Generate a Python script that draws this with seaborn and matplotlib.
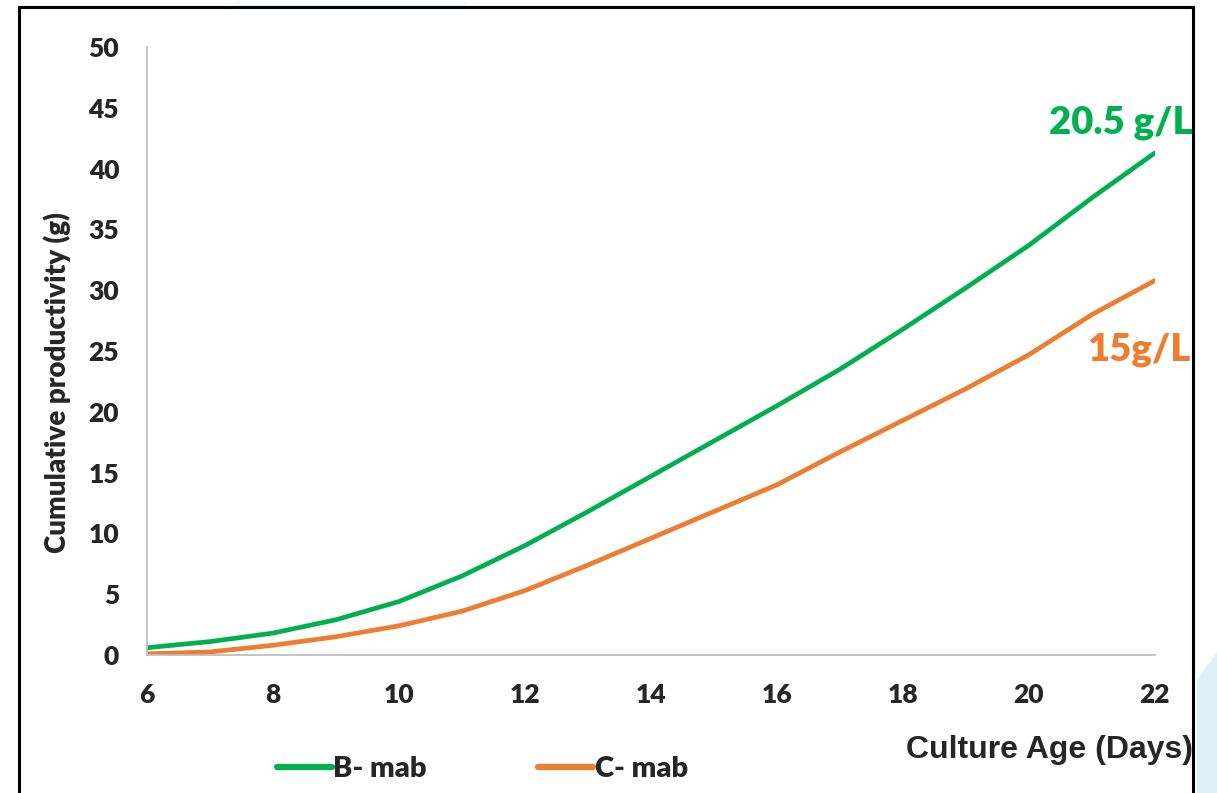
import matplotlib
matplotlib.use('Agg')
import matplotlib.pyplot as plt
import matplotlib.patches as patches
from matplotlib import font_manager
import seaborn as sns
import pandas as pd

# Data
days = [6, 7, 8, 9, 10, 11, 12, 13, 14, 15, 16, 17, 18, 19, 20, 21, 22]
b_mab = [0.6, 1.1, 1.8, 2.9, 4.4, 6.5, 9.0, 11.8, 14.7, 17.6, 20.5, 23.5, 26.8, 30.2, 33.7, 37.6, 41.3]
c_mab = [0.1, 0.25, 0.8, 1.5, 2.4, 3.6, 5.3, 7.4, 9.6, 11.8, 14.0, 16.7, 19.3, 21.9, 24.7, 28.0, 30.8]
series_names = ['B- mab', 'C- mab']
series_colors = ['#00B050', '#ED7D31']
y_ticks = [0, 5, 10, 15, 20, 25, 30, 35, 40, 45, 50]
x_ticks = [6, 8, 10, 12, 14, 16, 18, 20, 22]

df = pd.DataFrame({'day': days * 2,
                   'value': b_mab + c_mab,
                   'series': [series_names[0]] * len(days) + [series_names[1]] * len(days)})

sns.set_theme(style='white')
plt.rcParams['font.family'] = ['Lato', 'DejaVu Sans']
plt.rcParams['font.weight'] = 'heavy'

W, H = 1217, 793
fig = plt.figure(figsize=(W / 100, H / 100), dpi=100)
ax = fig.add_axes([147 / W, 1 - 655 / H, (1155 - 147) / W, (655 - 47) / H])

sns.lineplot(data=df, x='day', y='value', hue='series', palette=series_colors,
             linewidth=3.4, ax=ax, legend=False)
for ln in ax.lines:
    ln.set_solid_joinstyle('round')
    ln.set_solid_capstyle('round')

ax.set_xlim(6, 22)
ax.set_ylim(0, 50)
ax.set_xticks(x_ticks)
ax.set_yticks(y_ticks)
ax.set_xticklabels([str(t) for t in x_ticks], fontsize=19, fontweight='heavy')
ax.set_yticklabels([str(t) for t in y_ticks], fontsize=19, fontweight='heavy')
ax.tick_params(axis='x', length=0, pad=20)
ax.tick_params(axis='y', length=0, pad=20)
ax.set_xlabel('')
ax.set_ylabel('')
for s in ['top', 'right']:
    ax.spines[s].set_visible(False)
for s in ['left', 'bottom']:
    ax.spines[s].set_color('#BFBFBF')
    ax.spines[s].set_linewidth(1.3)

# end labels
ax.text(22.6, 43.8, '20.5 g/L', color=series_colors[0], fontsize=27.5,
        fontweight='heavy', ha='right', va='center', clip_on=False)
ax.text(22.56, 25.1, '15g/L', color=series_colors[1], fontsize=27.5,
        fontweight='heavy', ha='right', va='center', clip_on=False)

# axis titles
fig.text(57 / W, 1 - 383 / H, 'Cumulative productivity (g)', rotation=90,
         fontsize=20, fontweight='heavy', ha='center', va='center')
xlabel_font = font_manager.FontProperties(family='Liberation Sans', weight='bold', size=23)
fig.text(1193 / W, 1 - 750 / H, 'Culture Age (Days)', fontproperties=xlabel_font,
         ha='right', va='center')

# legend at the bottom
handles = [plt.Line2D([], [], color=c, linewidth=4.5, solid_capstyle='round')
           for c in series_colors]
fig.legend(handles, series_names, loc='center left', bbox_to_anchor=(262 / W, 1 - 769 / H),
           ncol=2, frameon=False, handlelength=1.9, handletextpad=0.05,
           columnspacing=3.8, borderpad=0, prop={'size': 21, 'weight': 'heavy'})

# slide decoration: light blue shape and black frame
fig.patches.append(patches.Polygon([(1197 / W, 0), (1197 / W, 1 - 680 / H),
                                    (1, 1 - 652 / H), (1, 0)],
                                   closed=True, transform=fig.transFigure,
                                   facecolor='#DDF0F8', edgecolor='none'))
fig.patches.append(patches.Rectangle((233 / W, 1 - 6 / H), (467 - 233) / W, 6 / H,
                                     transform=fig.transFigure,
                                     facecolor='#F4FAFE', edgecolor='none'))
fig.patches.append(patches.Rectangle((19 / W, -0.05), (1193 - 19) / W, 1.05 - 7 / H,
                                     transform=fig.transFigure, fill=False,
                                     edgecolor='black', linewidth=2.2))

fig.savefig('out.png', dpi=100)
